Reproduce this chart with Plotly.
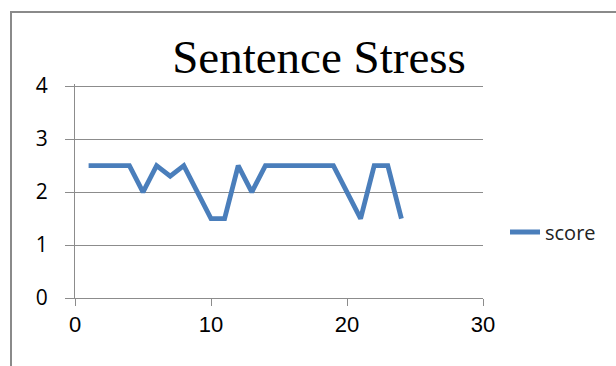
import plotly.graph_objects as go

title_text = "Sentence Stress"
series_name = "score"
x_values = list(range(1, 25))
scores = [2.5, 2.5, 2.5, 2.5, 2.0, 2.5, 2.3, 2.5, 2.0, 1.5, 1.5, 2.5,
          2.0, 2.5, 2.5, 2.5, 2.5, 2.5, 2.5, 2.0, 1.5, 2.5, 2.5, 1.5]
x_ticks = [0, 10, 20, 30]
y_ticks = [0, 1, 2, 3, 4]

W, H = 616, 366
L, R, T, B = 75, 133, 84, 68
pw, ph = W - L - R, H - T - B
y_top = 4.04

def px_x(p):
    return (p - L) / pw

def px_y(p):
    return (H - B - p) / ph

fig = go.Figure()
fig.add_trace(go.Scatter(
    x=x_values, y=scores, mode="lines", name=series_name,
    line=dict(color="#4A7EBB", width=4.8),
))

grid = "#8c8c8c"
fig.update_layout(
    width=W, height=H,
    margin=dict(l=L, r=R, t=T, b=B, pad=0),
    paper_bgcolor="white", plot_bgcolor="white",
    title=dict(text=title_text, x=319 / W, xanchor="center", xref="container",
               y=1 - 57 / H, yanchor="middle", yref="container",
               font=dict(family="Liberation Serif", size=47, color="black")),
    showlegend=True,
    legend=dict(x=px_x(505), xanchor="left", y=px_y(232), yanchor="middle",
                font=dict(family="Open Sans", size=20, color="#222"),
                bgcolor="rgba(0,0,0,0)"),
    xaxis=dict(range=[0, 30], tickvals=x_ticks, ticks="outside", ticklen=7,
               tickcolor=grid, showgrid=False, showline=True, linecolor=grid,
               linewidth=1, zeroline=False,
               tickfont=dict(family="Liberation Sans", size=22, color="black")),
    yaxis=dict(range=[0, y_top], tickvals=y_ticks, ticks="outside", ticklen=9,
               tickcolor=grid, showgrid=True, gridcolor=grid, gridwidth=1,
               showline=True, linecolor=grid, linewidth=1, zeroline=False,
               ticklabelstandoff=13,
               tickfont=dict(family="Open Sans", size=21, color="black")),
    shapes=[dict(type="rect", xref="paper", yref="paper",
                 x0=px_x(11), x1=px_x(W + 10), y0=px_y(H + 10), y1=px_y(12),
                 line=dict(color="#8a8a8a", width=2), layer="below")],
)
fig.write_html("out.html")
